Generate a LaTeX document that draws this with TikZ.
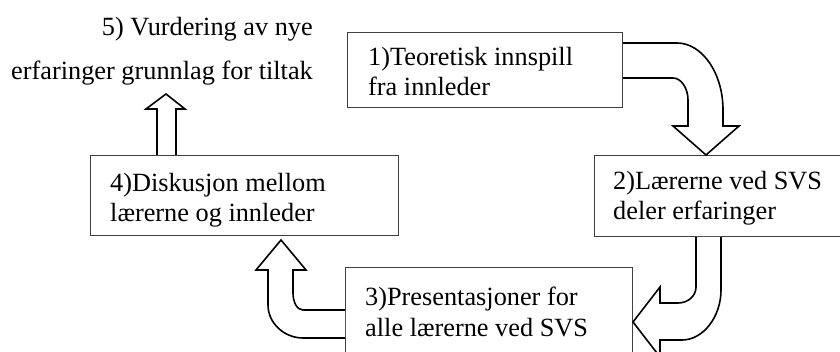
\documentclass[tikz,border=0pt]{standalone}
\usepackage{fontspec}
\setmainfont{Liberation Serif}
\begin{document}
\begin{tikzpicture}[x=1pt,y=-1pt,
  box/.style={draw=black!75, line width=1pt, fill=white, inner sep=0pt, anchor=north west},
  lbl/.style={font=\fontsize{26.3}{30}\selectfont, align=left, inner sep=0pt, anchor=base west},
  blockarrow/.style={draw=black, line width=1.6pt, fill=white, line join=miter}]
\useasboundingbox (0,0) rectangle (840,352);
\clip (0,0) rectangle (840,352);

% boxes
\node[box, minimum width=275pt, minimum height=75pt]  (b1) at (347,32)  {};
\node[box, minimum width=260pt, minimum height=81pt]  (b2) at (594,155) {};
\node[box, minimum width=287pt, minimum height=110pt] (b3) at (345,267) {};
\node[box, minimum width=308pt, minimum height=80pt]  (b4) at (90,155)  {};

% box texts (placed by the baseline of their last line)
\node[lbl] (t1) at (368,96)  {1)Teoretisk innspill\\fra innleder};
\node[lbl] (t2) at (613,220) {2)Lærerne ved SVS\\deler erfaringer};
\node[lbl] (t3) at (365,336) {3)Presentasjoner for\\alle lærerne ved SVS};
\node[lbl] (t4) at (110,222) {4)Diskusjon mellom\\lærerne og innleder};

% step 5, free text
\node[font=\fontsize{26.3}{30}\selectfont, inner sep=0pt, anchor=base east] (t5a) at (313,36) {5) Vurdering av nye};
\node[font=\fontsize{26.3}{30}\selectfont, inner sep=0pt, anchor=base east] (t5b) at (313,80) {erfaringer grunnlag for tiltak};

% 1 -> 2 : bent arrow from the right side of box 1 down onto box 2
\path[blockarrow] (b1.east |- 0,43) -- (677,43)
  .. controls (702,43) and (723,73) .. (723,110) -- (723,126) -- (739,126)
  -- (b2.north -| 706,0) -- (673,126) -- (688,126) -- (688,100)
  .. controls (688,88) and (681,78) .. (673,78) -- (b1.east |- 0,78);

% 2 -> 3 : bent arrow from the bottom of box 2 to the right side of box 3
\path[blockarrow] (b2.south -| 721,0) -- (721,290)
  .. controls (721,317) and (703,340) .. (682,340) -- (660,340) -- (660,357)
  -- (b3.east |- 0,322) -- (660,287) -- (660,303) -- (678,303)
  .. controls (688,303) and (696,296) .. (696,287) -- (b2.south -| 696,0);

% 3 -> 4 : bent arrow from the left side of box 3 up to box 4
\path[blockarrow] (b3.west |- 0,310) -- (303,310)
  .. controls (297,310) and (293,302) .. (293,293) -- (293,270) -- (306,270)
  -- (281,240) -- (256,270) -- (268,270) -- (268,305)
  .. controls (268,323) and (284,338) .. (303,338) -- (b3.west |- 0,338);

% 4 -> 5 : straight up arrow
\path[blockarrow] (b4.north -| 157,0) -- (157,109) -- (146,109) -- (166,94)
  -- (185,109) -- (176,109) -- (b4.north -| 176,0);
\end{tikzpicture}
\end{document}
